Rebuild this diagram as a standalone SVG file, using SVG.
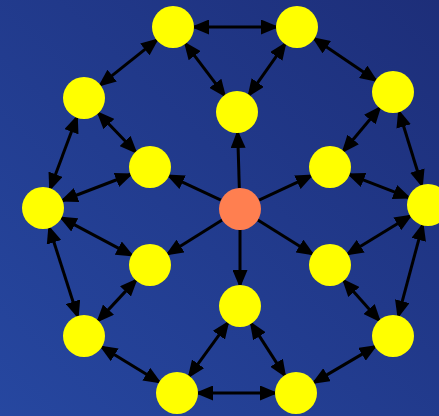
<svg xmlns="http://www.w3.org/2000/svg" width="439" height="416" viewBox="0 0 439 416">
<defs>
<linearGradient id="bg" x1="1" y1="0" x2="0" y2="1">
<stop offset="0" stop-color="#1d2e79"/>
<stop offset="1" stop-color="#2647a0"/>
</linearGradient>
<marker id="ah" viewBox="0 0 18 15" markerWidth="18" markerHeight="15" refX="15" refY="7.5" orient="auto-start-reverse" markerUnits="userSpaceOnUse">
<path d="M0,0 L18,7.5 L0,15 z" fill="#000"/>
</marker>
<style>
.e{stroke:#000;stroke-width:3;fill:none;marker-end:url(#ah)}
.d{marker-start:url(#ah)}
.y{fill:#ffff00}
.c{fill:#ff7f50}
</style>
</defs>
<rect width="439" height="416" fill="url(#bg)"/>
<g id="connectors">
<line class="e" x1="239.35" y1="188" x2="237.65" y2="133"/>
<line class="e" x1="259.03" y1="200.12" x2="310.97" y2="175.88"/>
<line class="e" x1="257.83" y1="220.09" x2="312.17" y2="253.91"/>
<line class="e" x1="240" y1="230" x2="240" y2="285"/>
<line class="e" x1="222.17" y1="220.09" x2="167.83" y2="253.91"/>
<line class="e" x1="220.97" y1="200.12" x2="169.03" y2="175.88"/>
<line class="e d" x1="194" y1="27" x2="276" y2="27"/>
<line class="e d" x1="314.39" y1="38.77" x2="375.61" y2="80.23"/>
<line class="e d" x1="399.21" y1="112.06" x2="421.79" y2="184.94"/>
<line class="e d" x1="422.58" y1="225.29" x2="398.42" y2="315.71"/>
<line class="e d" x1="374.89" y1="346.64" x2="314.11" y2="382.36"/>
<line class="e d" x1="275" y1="393" x2="198" y2="393"/>
<line class="e d" x1="159.1" y1="382.03" x2="101.9" y2="346.97"/>
<line class="e d" x1="77.59" y1="316" x2="49.41" y2="228"/>
<line class="e d" x1="50.33" y1="188.32" x2="76.67" y2="117.68"/>
<line class="e d" x1="100.42" y1="84.9" x2="156.58" y2="40.1"/>
<line class="e d" x1="224.37" y1="95.22" x2="185.63" y2="43.78"/>
<line class="e d" x1="249.11" y1="94.84" x2="284.89" y2="44.16"/>
<line class="e d" x1="343.51" y1="150.92" x2="379.49" y2="108.08"/>
<line class="e d" x1="349.58" y1="174.59" x2="408.42" y2="197.41"/>
<line class="e d" x1="347.91" y1="254.03" x2="410.09" y2="215.97"/>
<line class="e d" x1="343.94" y1="280.71" x2="379.06" y2="320.29"/>
<line class="e d" x1="251.37" y1="323.66" x2="284.63" y2="375.34"/>
<line class="e d" x1="227.68" y1="323.01" x2="189.32" y2="375.99"/>
<line class="e d" x1="135.7" y1="280.38" x2="98.3" y2="320.62"/>
<line class="e d" x1="131.47" y1="255.13" x2="61.53" y2="217.87"/>
<line class="e d" x1="130.39" y1="174.51" x2="62.61" y2="200.49"/>
<line class="e d" x1="135.48" y1="151.82" x2="98.52" y2="113.18"/>
</g>
<g id="center"><circle class="c" cx="240" cy="209" r="21"/></g>
<g id="i1"><circle class="y" cx="237" cy="112" r="21"/></g>
<g id="i2"><circle class="y" cx="330" cy="167" r="21"/></g>
<g id="i3"><circle class="y" cx="330" cy="265" r="21"/></g>
<g id="i4"><circle class="y" cx="240" cy="306" r="21"/></g>
<g id="i5"><circle class="y" cx="150" cy="265" r="21"/></g>
<g id="i6"><circle class="y" cx="150" cy="167" r="21"/></g>
<g id="o1"><circle class="y" cx="173" cy="27" r="21"/></g>
<g id="o2"><circle class="y" cx="297" cy="27" r="21"/></g>
<g id="o3"><circle class="y" cx="393" cy="92" r="21"/></g>
<g id="o4"><circle class="y" cx="428" cy="205" r="21"/></g>
<g id="o5"><circle class="y" cx="393" cy="336" r="21"/></g>
<g id="o6"><circle class="y" cx="296" cy="393" r="21"/></g>
<g id="o7"><circle class="y" cx="177" cy="393" r="21"/></g>
<g id="o8"><circle class="y" cx="84" cy="336" r="21"/></g>
<g id="o9"><circle class="y" cx="43" cy="208" r="21"/></g>
<g id="o10"><circle class="y" cx="84" cy="98" r="21"/></g>
</svg>
